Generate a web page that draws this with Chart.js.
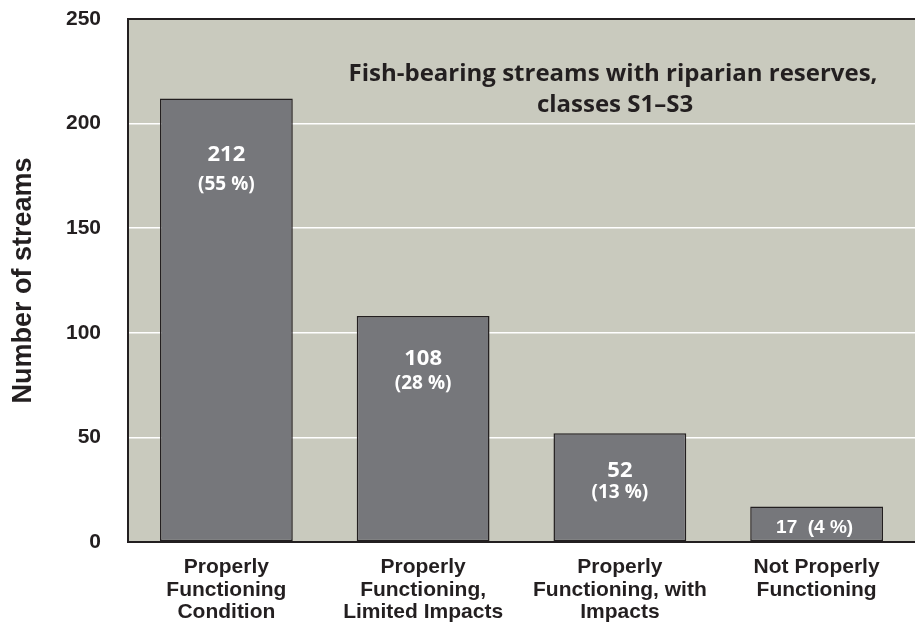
<!DOCTYPE html>
<html>
<head>
<meta charset="utf-8">
<script src="https://cdn.jsdelivr.net/npm/chart.js@4"></script>
<style>
  html, body { margin: 0; padding: 0; background: #fff; }
  #wrap { width: 915px; height: 628px; }
</style>
</head>
<body>
<div id="wrap"><canvas id="myChart"></canvas></div>
<script>
// data set
var categories = [
  ["Properly", "Functioning", "Condition"],
  ["Properly", "Functioning,", "Limited Impacts"],
  ["Properly", "Functioning, with", "Impacts"],
  ["Not Properly", "Functioning"]
];
var streams = [212, 108, 52, 17];
var percents = [55, 28, 13, 4];
var yTicks = [0, 50, 100, 150, 200, 250];
var titleLines = ["Fish-bearing streams with riparian reserves,", "classes S1\u2013S3"];

// plot background, top border, inner title
const panel = {
  id: 'panel',
  beforeDraw(chart) {
    const { ctx, chartArea: a } = chart;
    ctx.save();
    ctx.fillStyle = '#c9cabe';
    ctx.fillRect(a.left, a.top, a.right - a.left, a.bottom - a.top);
    ctx.restore();
  },
  afterDraw(chart) {
    const { ctx, chartArea: a } = chart;
    ctx.save();
    ctx.strokeStyle = '#231f20';
    ctx.lineWidth = 2;
    ctx.beginPath();
    ctx.moveTo(a.left - 1, a.top);
    ctx.lineTo(a.right, a.top);
    ctx.stroke();
    ctx.fillStyle = '#231f20';
    ctx.font = 'bold 24px "Open Sans"';
    ctx.textAlign = 'center';
    ctx.textBaseline = 'middle';
    ctx.fillText(titleLines[0], 613, 74);
    ctx.fillText(titleLines[1], 615, 105);
    ctx.restore();
  }
};

// value labels inside the bars
const barLabels = {
  id: 'barLabels',
  afterDatasetsDraw(chart) {
    const { ctx } = chart;
    const numOff = [56, 43, 38];
    const pctOff = [86, 68, 59];
    ctx.save();
    ctx.fillStyle = '#ffffff';
    ctx.textAlign = 'center';
    ctx.textBaseline = 'middle';
    chart.getDatasetMeta(0).data.forEach((bar, i) => {
      if (i < 3) {
        ctx.font = 'bold 22px "Open Sans"';
        ctx.fillText(String(streams[i]), bar.x, bar.y + numOff[i]);
        ctx.font = 'bold 19px "Open Sans"';
        ctx.fillText('(' + percents[i] + ' %)', bar.x, bar.y + pctOff[i]);
      } else {
        ctx.font = 'bold 19px "Liberation Sans"';
        ctx.fillText(streams[i] + '  (' + percents[i] + ' %)', bar.x - 2, bar.y + 21);
      }
    });
    ctx.restore();
  }
};

new Chart("myChart", {
  type: "bar",
  data: {
    labels: categories,
    datasets: [{
      data: streams,
      backgroundColor: "#76777b",
      borderColor: "#231f20",
      borderWidth: 1.5,
      borderSkipped: false,
      categoryPercentage: 1,
      barPercentage: 0.675
    }]
  },
  options: {
    responsive: true,
    maintainAspectRatio: false,
    animation: false,
    layout: { padding: { top: 19, right: 0, left: 0, bottom: 0 } },
    plugins: {
      legend: { display: false },
      tooltip: { enabled: false }
    },
    scales: {
      x: {
        grid: { display: false, drawTicks: false },
        border: { display: true, color: '#231f20', width: 2 },
        ticks: {
          color: '#231f20',
          padding: 14,
          maxRotation: 0,
          autoSkip: false,
          font: { family: '"Liberation Sans"', weight: 'bold', size: 21, lineHeight: 1.07 }
        },
        afterFit(scale) { scale.height = 86; scale.paddingLeft = 0; scale.paddingRight = 0; }
      },
      y: {
        min: 0,
        max: 250,
        afterBuildTicks(scale) { scale.ticks = yTicks.map(v => ({ value: v })); },
        grid: {
          drawTicks: false,
          color: ctx => (ctx.tick && ctx.tick.value > 0 && ctx.tick.value < 250) ? '#ffffff' : 'rgba(0,0,0,0)',
          lineWidth: 1.5
        },
        border: { display: true, color: '#231f20', width: 2 },
        ticks: {
          color: '#231f20',
          padding: 27,
          font: { family: '"Liberation Sans"', weight: 'bold', size: 21 }
        },
        title: {
          display: true,
          text: 'Number of streams',
          color: '#231f20',
          padding: { top: 7, bottom: 0 },
          font: { family: '"Liberation Sans"', weight: 'bold', size: 27 }
        },
        afterFit(scale) { scale.width = 128; scale.paddingTop = 0; scale.paddingBottom = 0; }
      }
    }
  },
  plugins: [panel, barLabels]
});
</script>
</body>
</html>
